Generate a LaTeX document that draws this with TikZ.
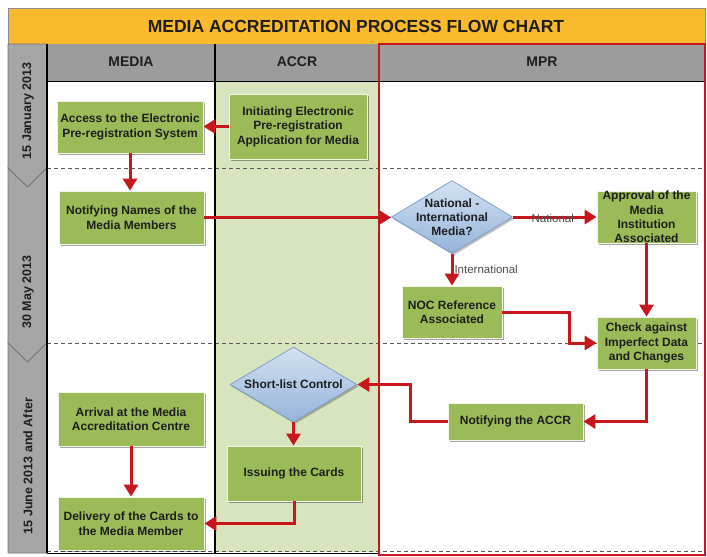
\documentclass[tikz,border=0pt]{standalone}
\usepackage{fontspec}
\setmainfont{Liberation Sans}
\usetikzlibrary{arrows.meta,shapes.geometric,shadows,calc}
\definecolor{boxgreen}{HTML}{9BBB59}
\definecolor{lanegreen}{HTML}{D7E4BD}
\definecolor{arrowred}{HTML}{C8161D}
\definecolor{titleorange}{HTML}{FBBA2B}
\definecolor{headgray}{HTML}{9C9C9C}
\definecolor{timegray}{HTML}{A6A6A6}
\definecolor{txtdark}{HTML}{1E1E1E}
\definecolor{diatop}{HTML}{D3E1F2}
\definecolor{diabot}{HTML}{94B4DA}
\definecolor{diaedge}{HTML}{7E9FC9}
\tikzset{
  flowbox/.style={rectangle, fill=boxgreen, draw=white!85!boxgreen, line width=0.8pt,
    text=txtdark, font=\fontsize{12}{14.5}\selectfont\bfseries, align=center, inner sep=1pt,
    drop shadow={shadow xshift=1.5pt, shadow yshift=-2pt, fill=black, opacity=0.35}},
  decision/.style={diamond, top color=diatop, bottom color=diabot, draw=diaedge,
    line width=0.8pt, inner sep=0pt,
    drop shadow={shadow xshift=1.5pt, shadow yshift=-2pt, fill=black, opacity=0.25}},
  dtext/.style={text=txtdark, font=\fontsize{12}{14}\selectfont\bfseries, align=center, inner sep=0pt},
  flow/.style={draw=arrowred, line width=3pt, -{Triangle[length=12pt,width=14pt]}},
  flowlabel/.style={text=black!70, font=\fontsize{11.5}{13}\selectfont, inner sep=1pt},
  headtxt/.style={text=txtdark, font=\fontsize{14}{16}\selectfont\bfseries},
  timetxt/.style={text=txtdark, font=\fontsize{12.5}{14}\selectfont\bfseries, rotate=90},
  phase/.style={draw=black!65, dash pattern=on 4pt off 3pt, line width=0.7pt},
  chevron/.style={fill=timegray, draw=black!55, line width=0.7pt},
}
\begin{document}
\begin{tikzpicture}[x=1pt,y=-1pt]
\useasboundingbox (0,0) rectangle (707,557);
\fill[white] (0,0) rectangle (707,557);
% title bar
\filldraw[fill=titleorange, draw=black!45, line width=0.6pt] (8,8) rectangle (705,44);
\node[text=txtdark, font=\fontsize{17.5}{20}\selectfont\bfseries] (title) at (356,26) {MEDIA ACCREDITATION PROCESS FLOW CHART};
% lane backgrounds
\fill[lanegreen] (215,81) rectangle (379,552);
% header row
\fill[headgray] (47,44) rectangle (705,81);
\draw[black, line width=1pt] (47,81) -- (705,81);
\node[headtxt] (hmedia) at (131,62) {MEDIA};
\node[headtxt] (haccr) at (297,62) {ACCR};
\node[headtxt] (hmpr) at (542,62) {MPR};
% timeline column
\filldraw[chevron] (8,44) -- (47,44) -- (47,168) -- (27.5,187) -- (8,168) -- cycle;
\filldraw[chevron] (8,168) -- (27.5,187) -- (47,168) -- (47,343) -- (27.5,362) -- (8,343) -- cycle;
\filldraw[chevron] (8,343) -- (27.5,362) -- (47,343) -- (47,553) -- (8,553) -- cycle;
\node[timetxt] (t1) at (28,111) {15 January 2013};
\node[timetxt] (t2) at (28,292) {30 May 2013};
\node[timetxt] (t3) at (28,466) {15 June 2013 and After};
% phase lines
\draw[phase] (47,168) -- (703,168);
\draw[phase] (47,343) -- (703,343);
\draw[phase] (47,551) -- (703,551);
% lane borders
\draw[black, line width=1.3pt] (47,44) -- (47,553);
\draw[black, line width=1.3pt] (215,44) -- (215,553);
\draw[black, line width=1pt] (47,553) -- (379,553);
\draw[arrowred, line width=1.3pt] (379,44) rectangle (705,555);

% nodes
\node[flowbox, minimum width=146pt, minimum height=52pt] (access) at (130,127) {Access to the Electronic\\Pre-registration System};
\node[flowbox, minimum width=138pt, minimum height=65pt] (init) at (298,126.5) {Initiating Electronic\\Pre-registration\\Application for Media};
\node[flowbox, minimum width=145pt, minimum height=53pt] (names) at (131.5,217.5) {Notifying Names of the\\Media Members};
\node[decision, minimum width=121pt, minimum height=73pt] (nat) at (452,217) {};
\node[dtext] (nattxt) at (nat.center) {National -\\International\\Media?};
\node[flowbox, minimum width=99pt, minimum height=52pt, inner sep=0pt, font=\fontsize{12}{14.2}\selectfont\bfseries] (approval) at (646.5,217) {Approval of the\\Media\\Institution\\Associated};
\node[flowbox, minimum width=100pt, minimum height=52pt] (noc) at (452,312) {NOC Reference\\Associated};
\node[flowbox, minimum width=99pt, minimum height=52pt] (check) at (646.5,343) {Check against\\Imperfect Data\\and Changes};
\node[flowbox, minimum width=135pt, minimum height=37pt] (notaccr) at (515.5,421.5) {Notifying the ACCR};
\node[decision, minimum width=127pt, minimum height=75pt] (short) at (293.5,384.5) {};
\node[dtext] (shorttxt) at (short.center) {Short-list Control};
\node[flowbox, minimum width=134pt, minimum height=55pt] (issuing) at (294,473.5) {Issuing the Cards};
\node[flowbox, minimum width=146pt, minimum height=54pt] (arrival) at (131,419) {Arrival at the Media\\Accreditation Centre};
\node[flowbox, minimum width=146pt, minimum height=53pt] (delivery) at (131,523.5) {Delivery of the Cards to\\the Media Member};

% bend points
\coordinate (b1) at (569,312);
\coordinate (b2) at (410,421.5);

% connectors
\draw[flow] (init.west) -- (init.west -| access.east);
\draw[flow] (access.south) -- (access.south |- names.north);
\draw[flow] (names.east) -- (names.east -| nat.west);
\draw[flow] (nat.east) -- (approval.west) node[flowlabel, midway, xshift=-2pt, yshift=-1pt] {National};
\draw[flow] (nat.south) -- (noc.north) node[flowlabel, midway, anchor=west, xshift=0pt] {International};
\draw[flow] (approval.south) -- (check.north);
\draw[flow] (noc.east) -- (b1) |- (check.west);
\draw[flow] (check.south) |- (notaccr.east);
\draw[flow] (notaccr.west) -- (b2) |- (short.east);
\draw[flow] (short.south) -- (short.south |- issuing.north);
\draw[flow] (issuing.south) |- (delivery.east);
\draw[flow] (arrival.south) -- (delivery.north);
\end{tikzpicture}
\end{document}
